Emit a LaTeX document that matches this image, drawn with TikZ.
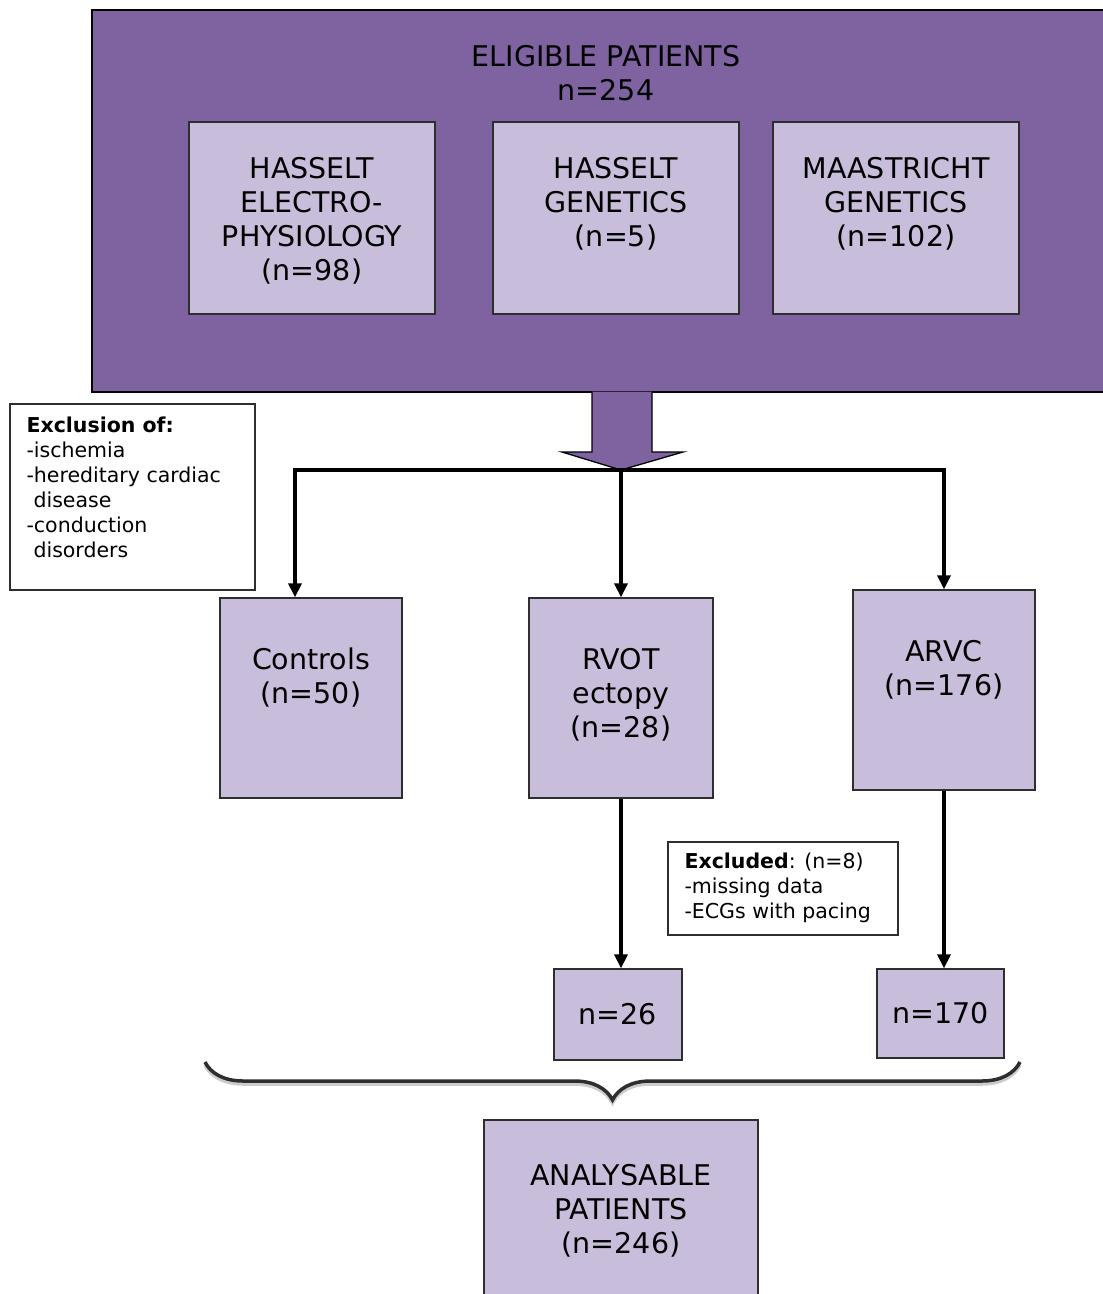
\documentclass[tikz,border=0pt]{standalone}
\usepackage{fontspec}
\setmainfont{DejaVu Sans}
\usepackage{xcolor}
\usepackage{tikz}
\usetikzlibrary{positioning,arrows.meta,decorations.pathreplacing}
\definecolor{darkpurple}{HTML}{7F63A1}
\definecolor{lightpurple}{HTML}{C8BEDB}
\definecolor{edgegray}{HTML}{2E2E2E}

\begin{document}
\begin{tikzpicture}[x=1pt,y=-1pt,
	box/.style={rectangle,draw=edgegray,line width=1.3pt,fill=lightpurple,inner sep=0pt},
	note/.style={rectangle,draw=edgegray,line width=1.3pt,fill=white,inner sep=0pt},
	bigtext/.style={align=center,inner sep=0pt,font=\fontsize{28.5}{34}\selectfont},
	smalltext/.style={align=left,inner sep=0pt,font=\fontsize{20.5}{25}\selectfont},
	flow/.style={line width=3.5pt,draw=black,-{Triangle[width=13pt,length=14pt]}}]
	\clip (0,0) rectangle (1103,1294);
	\fill[white] (0,0) rectangle (1103,1294);
	% eligible patients
	\node[rectangle,draw=black,line width=1.3pt,fill=darkpurple,
	minimum width=1018pt,
	minimum height=382pt] (elig) at(601,201){};
	\node[bigtext,anchor=north] (eligt) at(606,45){ELIGIBLE PATIENTS\\n=254};
	\node[box,minimum width=246pt,minimum height=192pt] (hep) at(312,218){};
	\node[bigtext,below=36pt of hep.north] (hept){HASSELT\\ELECTRO-\\PHYSIOLOGY\\(n=98)};
	\node[box,minimum width=246pt,minimum height=192pt] (hg) at(616,218){};
	\node[bigtext,below=36pt of hg.north] (hgt){HASSELT\\GENETICS\\(n=5)};
	\node[box,minimum width=246pt,minimum height=192pt] (mg) at(896,218){};
	\node[bigtext,below=36pt of mg.north] (mgt){MAASTRICHT\\GENETICS\\(n=102)};
	% big arrow
	\coordinate (tip) at(621,470);
	\filldraw[fill=darkpurple,draw=black,line width=1.3pt]
	(592,391.5) -- (592,452) -- (562,452) -- (tip) -- (683,452) -- (652,452) -- (652,391.5);
	% exclusion
	\node[note,minimum width=245pt,minimum height=186pt] (excl) at(132.5,497){};
	\node[smalltext,below right=13pt and 17pt of excl.north west] (exclt)
	{\textbf{Exclusion of:}\\-ischemia\\-hereditary cardiac\\\hspace*{7pt}disease\\-conduction\\\hspace*{7pt}disorders};
	% groups
	\node[box,minimum width=182pt,minimum height=200pt] (ctrl) at(311,698){};
	\node[bigtext,below=50pt of ctrl.north] (ctrlt){Controls\\(n=50)};
	\node[box,minimum width=184pt,minimum height=200pt] (rvot) at(621,698){};
	\node[bigtext,below=51pt of rvot.north] (rvott){RVOT\\ectopy\\(n=28)};
	\node[box,minimum width=182pt,minimum height=200pt] (arvc) at(944,690){};
	\node[bigtext,below=51pt of arvc.north] (arvct){ARVC\\(n=176)};
	\node[note,minimum width=230pt,minimum height=93pt] (exd) at(783,888.5){};
	\node[smalltext,below right=11pt and 17pt of exd.north west] (exdt)
	{\textbf{Excluded}: (n=8)\\-missing data\\-ECGs with pacing};
	\node[box,bigtext,minimum width=128pt,minimum height=91pt] (n26) at(618,1014.5){n=26};
	\node[box,bigtext,minimum width=127pt,minimum height=89pt] (n170) at(940.5,1013.5){n=170};
	\node[box,minimum width=274pt,minimum height=180pt] (anal) at(621,1210){};
	\node[bigtext,below=45pt of anal.north] (analt){ANALYSABLE\\PATIENTS\\(n=246)};
	\draw[flow] (tip) -| ([xshift=-16pt]ctrl.north);
	\draw[flow] (tip) -- (rvot.north);
	\draw[flow] (tip) -| (arvc.north);
	\draw[flow] (rvot.south) -- (rvot.south |- n26.north);
	\draw[flow] (arvc.south) -- (arvc.south |- n170.north);
	% brace
	\coordinate (brl) at(205,1062);
	\coordinate (brr) at(1020,1062);
	\draw[decorate,decoration={brace,amplitude=38pt,mirror},line width=3.5pt,draw=black!20]
	([yshift=-3pt]brl) -- ([yshift=-3pt]brr);
	\draw[decorate,decoration={brace,amplitude=38pt,mirror},line width=3.5pt,draw=edgegray]
	(brl) -- (brr);
\end{tikzpicture}
\end{document}
